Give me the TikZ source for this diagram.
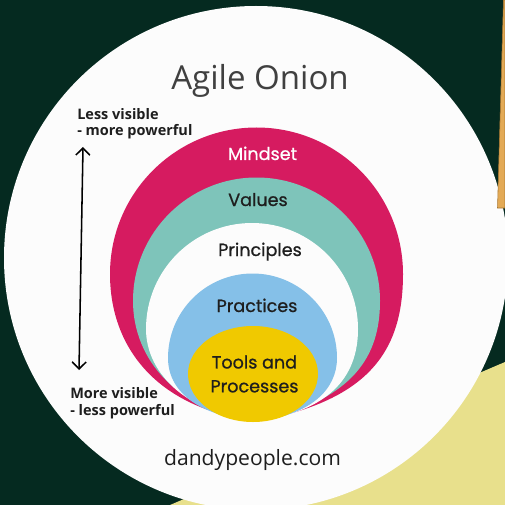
\documentclass[tikz,border=0pt]{standalone}
\usepackage{fontspec}
\setmainfont{Open Sans}
\newfontfamily\layerfont{Poppins}[FakeBold=0.8]
\usetikzlibrary{arrows.meta}
\definecolor{board}{RGB}{5,42,32}
\definecolor{sand}{RGB}{232,224,140}
\definecolor{gold}{RGB}{227,170,86}
\definecolor{goldedge}{RGB}{170,120,50}
\definecolor{paper}{RGB}{252,252,252}
\definecolor{mindsetc}{RGB}{214,27,96}
\definecolor{valuesc}{RGB}{126,196,186}
\definecolor{practicesc}{RGB}{133,192,232}
\definecolor{toolsc}{RGB}{240,201,0}
\definecolor{inktext}{RGB}{30,30,30}

\begin{document}
\begin{tikzpicture}[x=0.025cm,y=-0.025cm]
\tikzstyle{every node}=[inner sep=0pt]
\tikzstyle{layer}=[font=\layerfont\fontsize{12.5}{17}\selectfont,text=inktext,align=center]
\tikzstyle{side}=[font=\bfseries\fontsize{10.3}{12}\selectfont,text=inktext,align=left]
\useasboundingbox (0,0) rectangle (505,505);

% board and wall behind
\fill[board] (0,0) rectangle (505,505);
\fill[sand] (505,362) -- (170,505) -- (505,505) -- cycle;
\fill[paper] (256,258) circle (252);
\fill[gold,draw=goldedge] (503.5,0) -- (505,0) -- (505,208) -- (497.5,208) -- cycle;

% onion layers
\coordinate (tip) at (258,421);
\fill[mindsetc] (tip) .. controls (160,410) and (110,350) .. (110,274)
  arc[start angle=180,end angle=360,radius=146.5] .. controls (403,350) and (370,400) .. (tip);
\fill[valuesc] (tip) .. controls (178,412) and (133,360) .. (133,301)
  arc[start angle=180,end angle=360,radius=123.5] .. controls (380,355) and (355,400) .. (tip);
\fill[paper] (tip) .. controls (190,415) and (146,375) .. (146,329)
  arc[start angle=180,end angle=360,radius=106] .. controls (358,372) and (335,410) .. (tip);
\fill[practicesc] (tip) .. controls (205,418) and (168,395) .. (168,358)
  arc[start angle=180,end angle=360,radius=84.5] .. controls (337,390) and (310,415) .. (tip);
\fill[toolsc] (253,374) ellipse [x radius=65, y radius=48];

\node[font=\fontsize{23.5}{28}\selectfont,text=black!75,anchor=base] (title) at (260,90) {Agile Onion};
\node[layer,text=white,anchor=base] (mindset) at (262.5,160) {Mindset};
\node[layer,anchor=base] (values) at (258,206) {Values};
\node[layer,anchor=base] (principles) at (260,256) {Principles};
\node[layer,anchor=base] (practices) at (257,312) {Practices};
\node[layer] (tools) at (254.5,374) {Tools and\\Processes};
%\node[layer] (core) at (253,374) {};

\node[side,anchor=base west] (less) at (77,136) {Less visible\\- more powerful};
\node[side,anchor=base west] (more) at (70,415) {More visible\\- less powerful};
\coordinate (up) at (83,147);
\coordinate (down) at (79,370);
\draw[line width=1.1pt,{Straight Barb[length=5pt,width=10pt]}-{Straight Barb[length=5pt,width=10pt]}] (up) -- (down);

\node[font=\fontsize{15}{18}\selectfont,text=inktext,anchor=base] (site) at (252.5,465) {dandypeople.com};
\end{tikzpicture}
\end{document}
